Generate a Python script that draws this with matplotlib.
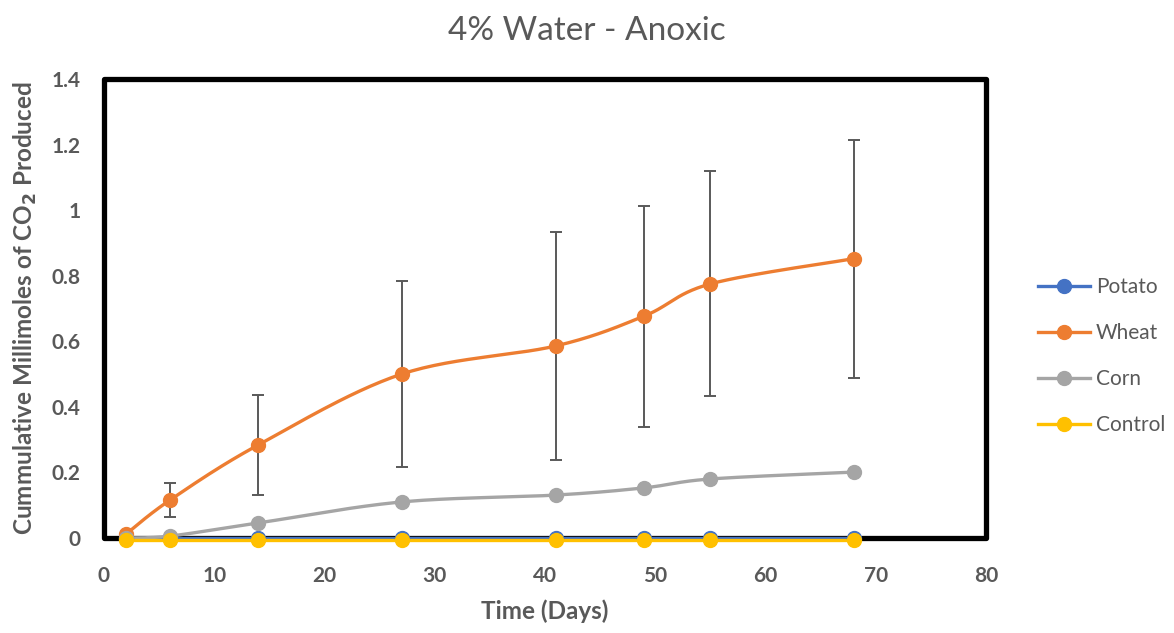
import matplotlib
matplotlib.use("Agg")
import matplotlib.pyplot as plt
from matplotlib.patches import Rectangle
import numpy as np

plt.rcParams['font.family'] = ['Lato', 'DejaVu Sans']

# data
days = [2, 6, 14, 27, 41, 49, 55, 68]
potato = [0, 0, 0, 0, 0, 0, 0, 0]
wheat = [0.012, 0.116, 0.284, 0.500, 0.586, 0.677, 0.775, 0.852]
wheat_err = [0, 0.051, 0.152, 0.284, 0.347, 0.337, 0.343, 0.363]
corn = [0.0, 0.006, 0.046, 0.110, 0.131, 0.153, 0.180, 0.201]
control = [-0.005, -0.005, -0.005, -0.005, -0.005, -0.005, -0.005, -0.005]

series = [("Potato", potato, "#4472C4"),
          ("Wheat", wheat, "#ED7D31"),
          ("Corn", corn, "#A5A5A5"),
          ("Control", control, "#FFC000")]

txt = "#595959"


def smooth(x, y, n=30):
    # excel-style smoothed line (bezier through the points)
    x = np.asarray(x, float)
    y = np.asarray(y, float)
    pts = np.column_stack([x, y])
    out = []
    for i in range(len(pts) - 1):
        p0 = pts[i - 1] if i > 0 else pts[i]
        p1 = pts[i]
        p2 = pts[i + 1]
        p3 = pts[i + 2] if i + 2 < len(pts) else pts[i + 1]
        c1 = p1 + (p2 - p0) / 6.0
        c2 = p2 - (p3 - p1) / 6.0
        t = np.linspace(0, 1, n)[:, None]
        seg = ((1 - t) ** 3) * p1 + 3 * ((1 - t) ** 2) * t * c1 \
            + 3 * (1 - t) * t ** 2 * c2 + t ** 3 * p2
        out.append(seg if i == 0 else seg[1:])
    seg = np.vstack(out)
    return seg[:, 0], seg[:, 1]


fig = plt.figure(figsize=(11.74, 6.33), dpi=100)
ax = fig.add_axes([104 / 1174, 1 - 538 / 633, (986 - 104) / 1174, (538 - 79) / 633])

# frame first so the markers on zero sit on top of it
frame = Rectangle((0, 0), 1, 1, transform=ax.transAxes, fill=False,
                  edgecolor='black', lw=3.8, joinstyle='round',
                  clip_on=False, zorder=1)
ax.add_patch(frame)

ax.errorbar(days, wheat, yerr=wheat_err, fmt='none', ecolor=txt,
            elinewidth=1.4, capsize=4.3, capthick=1.4, zorder=2)

for name, vals, col in series:
    sx, sy = smooth(days, vals)
    ax.plot(sx, sy, color=col, lw=2.4, zorder=3, solid_capstyle='round',
            clip_on=False)
    ax.plot(days, vals, 'o', color=col, ms=10, zorder=4, clip_on=False)
    ax.plot([], [], '-o', color=col, lw=2.4, ms=10, label=name)

ax.set_xlim(0, 80)
ax.set_ylim(0, 1.4)
ax.set_xticks(range(0, 81, 10))
ax.set_yticks([0, 0.2, 0.4, 0.6, 0.8, 1.0, 1.2, 1.4])
ax.set_yticklabels(["0", "0.2", "0.4", "0.6", "0.8", "1", "1.2", "1.4"])
ax.tick_params(length=0, labelsize=15, colors=txt)
ax.tick_params(axis='x', pad=20)
ax.tick_params(axis='y', pad=17)
for lab in ax.get_xticklabels() + ax.get_yticklabels():
    lab.set_fontweight('bold')

for sp in ax.spines.values():
    sp.set_visible(False)

ax.set_xlabel("Time (Days)", fontsize=17.5, fontweight='bold', color=txt, labelpad=10)
ax.set_ylabel("Cummulative Millimoles of CO$_\\mathbf{2}$ Produced", fontsize=17.5,
              fontweight='bold', color=txt, labelpad=9)
fig.suptitle("4% Water - Anoxic", fontsize=24, color=txt, y=0.975)

leg = fig.legend(loc='center left', bbox_to_anchor=(1019 / 1174, 1 - 356 / 633),
                 frameon=False, fontsize=15, labelspacing=1.25,
                 handlelength=2.5, handletextpad=0.3)
for t in leg.get_texts():
    t.set_color(txt)

fig.savefig("out.png", dpi=100)
